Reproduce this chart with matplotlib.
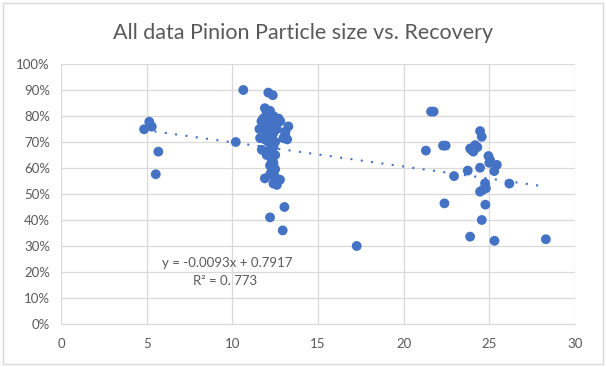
import numpy as np
import matplotlib.pyplot as plt
from matplotlib.patches import Rectangle
from matplotlib.ticker import PercentFormatter

# particle size (x) and recovery (y)
left_x = [4.85, 5.15, 5.3, 5.68, 5.53]
left_y = [0.749, 0.778, 0.759, 0.663, 0.576]

mid_x = [10.64, 12.1, 12.36, 11.9, 12.2, 12.0, 12.4, 11.8, 12.0, 12.2, 12.5, 12.7,
         11.7, 11.9, 12.1, 12.3, 12.6, 12.8, 12.0, 12.3, 12.5, 13.27, 11.58, 11.9,
         12.2, 12.6, 13.1, 12.0, 12.4, 13.08, 11.62, 11.9, 12.3, 12.98, 13.2, 10.2,
         12.1, 12.5, 11.72, 12.2, 12.4, 12.0, 12.3, 12.5, 12.4, 12.2, 12.3, 12.5,
         12.2, 12.4, 11.9, 12.78, 12.5, 12.6, 12.4, 13.04, 12.2, 12.94, 17.26,
         12.3, 12.45, 12.15, 12.5, 12.35]
mid_y = [0.90, 0.89, 0.88, 0.83, 0.82, 0.81, 0.80, 0.79, 0.79, 0.79, 0.79, 0.79,
         0.78, 0.775, 0.78, 0.775, 0.78, 0.78, 0.765, 0.765, 0.76, 0.76, 0.75, 0.75,
         0.745, 0.75, 0.74, 0.73, 0.735, 0.73, 0.715, 0.71, 0.72, 0.715, 0.71, 0.70,
         0.70, 0.70, 0.67, 0.67, 0.68, 0.65, 0.64, 0.65, 0.62, 0.61, 0.59, 0.595,
         0.575, 0.58, 0.56, 0.555, 0.55, 0.535, 0.54, 0.45, 0.41, 0.36, 0.30,
         0.63, 0.60, 0.655, 0.565, 0.685]

right_x = [21.6, 21.75, 24.46, 24.56, 21.3, 22.3, 22.45, 23.88, 24.17, 24.07, 23.95,
           24.3, 24.95, 25.04, 25.0, 25.44, 24.46, 23.74, 25.29, 22.94, 26.17, 24.75,
           24.8, 24.46, 24.6, 22.38, 24.77, 24.56, 23.88, 25.3, 28.3]
right_y = [0.817, 0.817, 0.742, 0.72, 0.667, 0.686, 0.686, 0.675, 0.688, 0.663, 0.67,
           0.68, 0.646, 0.631, 0.62, 0.612, 0.601, 0.59, 0.588, 0.569, 0.54, 0.541,
           0.522, 0.509, 0.515, 0.464, 0.459, 0.40, 0.336, 0.32, 0.326]

size = np.array(left_x + mid_x + right_x)
recovery = np.array(left_y + mid_y + right_y)

# trendline as printed on the chart
slope = -0.0093
intercept = 0.7917

blue = '#4472C4'
grey_text = '#595959'
grid = '#d9d9d9'

plt.rcParams['font.family'] = ['Lato', 'DejaVu Sans']

fig = plt.figure(figsize=(6.06, 3.67), dpi=100)
ax = fig.add_axes([0.1007, 0.1172, 0.8481, 0.7084])

ax.scatter(size, recovery, s=50, color=blue, edgecolors='none', zorder=3)

xs = np.array([size.min(), size.max()])
ax.plot(xs, slope * xs + intercept, color=blue, lw=1.5, linestyle=(0, (1, 4)), zorder=4)

ax.set_xlim(0, 30)
ax.set_ylim(0, 1.0)
ax.set_xticks(np.arange(0, 31, 5))
ax.set_yticks(np.arange(0, 1.01, 0.1))
ax.yaxis.set_major_formatter(PercentFormatter(1.0, decimals=0))
ax.grid(True, color=grid, lw=0.9)
ax.set_axisbelow(True)
for side in ['top', 'right', 'left']:
    ax.spines[side].set_visible(False)
ax.spines['bottom'].set_color(grid)
ax.tick_params(length=0, labelsize=9.5, labelcolor=grey_text, pad=8)
ax.tick_params(axis='x', pad=10)

ax.text(5.9, 0.219, "y = -0.0093x + 0.7917", fontsize=9.5, color=grey_text,
        va='baseline', zorder=5)
ax.text(7.7, 0.15, "R\u00b2 = 0. 773", fontsize=9.5, color=grey_text,
        va='baseline', zorder=5)

fig.text(0.5, 0.91, "All data Pinion Particle size vs. Recovery", ha='center', va='center',
         fontsize=15.5, color=grey_text)

fig.patches.append(Rectangle((0.005, 0.008), 0.99, 0.984, transform=fig.transFigure,
                             fill=False, edgecolor=grid, lw=1))

fig.savefig("out.png", dpi=100)
plt.close(fig)
